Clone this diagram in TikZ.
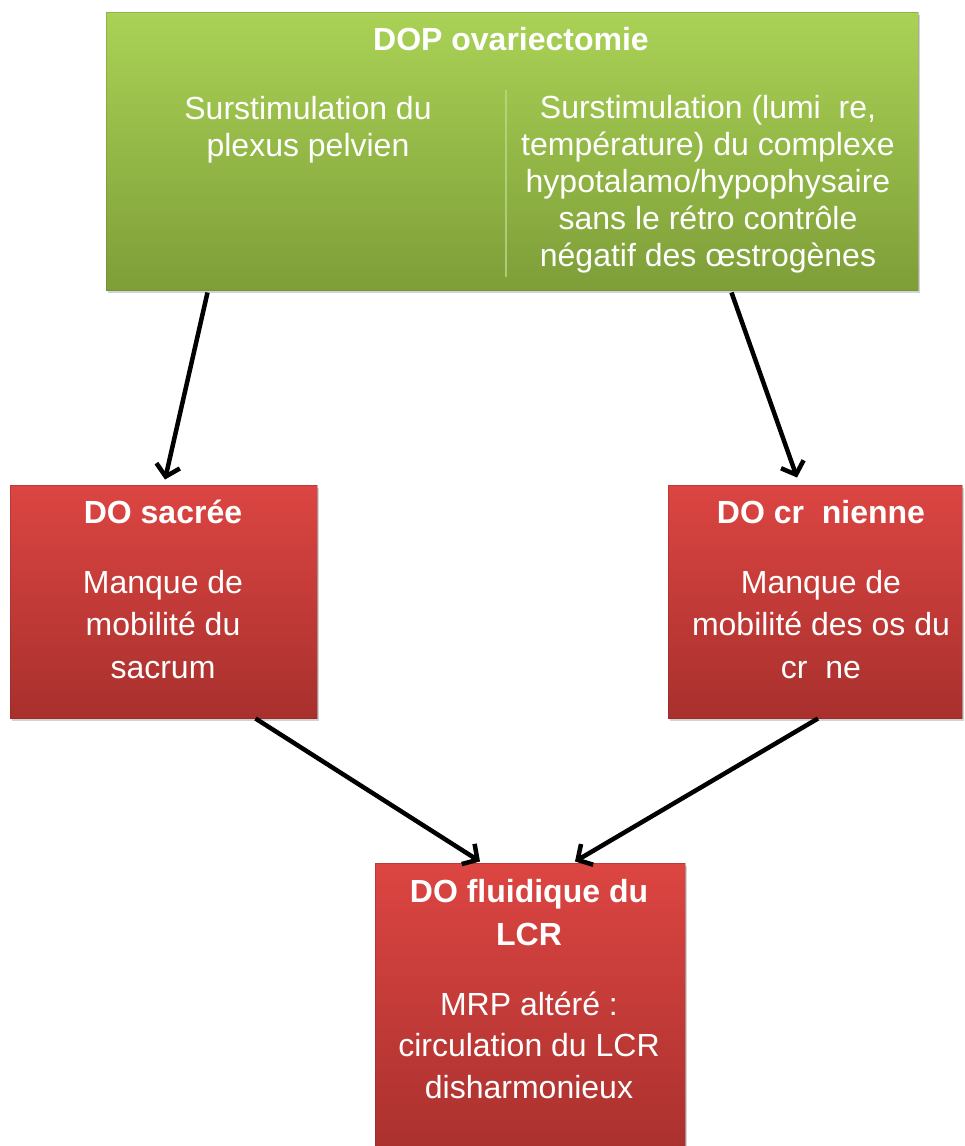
\documentclass[tikz,border=0pt]{standalone}
\usepackage{fontspec}
\setmainfont{Liberation Sans}
\usetikzlibrary{arrows.meta,shadows,calc}
\definecolor{gtop}{RGB}{170,210,86}
\definecolor{gbot}{RGB}{126,158,56}
\definecolor{rtop}{RGB}{220,69,66}
\definecolor{rbot}{RGB}{168,48,45}
\definecolor{divline}{RGB}{190,220,140}
\tikzset{
  greenbox/.style={rectangle, inner sep=0pt, top color=gtop, bottom color=gbot,
    draw=gbot!80!black, draw opacity=0.35, line width=1pt,
    drop shadow={opacity=0.35, shadow xshift=2pt, shadow yshift=-3pt}},
  redbox/.style={rectangle, inner sep=0pt, top color=rtop, bottom color=rbot,
    draw=rbot!80!black, draw opacity=0.35, line width=1pt,
    drop shadow={opacity=0.35, shadow xshift=2pt, shadow yshift=-3pt}},
  gtext/.style={anchor=base, inner sep=0pt, align=center, text=white,
    font=\fontsize{32}{37}\selectfont},
  rtitle/.style={anchor=base, inner sep=0pt, align=center, text=white,
    font=\fontsize{32}{43}\selectfont\bfseries},
  rtext/.style={anchor=base, inner sep=0pt, align=center, text=white,
    font=\fontsize{32}{42.5}\selectfont},
  arr/.style={line width=4.5pt, -{Straight Barb[length=11pt,width=24pt]}, black}
}
\begin{document}
\begin{tikzpicture}[x=1pt,y=-1pt]
\useasboundingbox (0,0) rectangle (965,1146);
% boxes
\node[greenbox, minimum width=812pt, minimum height=278pt] (green) at (512,151) {};
\node[redbox, minimum width=307pt, minimum height=233pt] (sacr) at (163.5,601.5) {};
\node[redbox, minimum width=294pt, minimum height=233pt] (cran) at (815,601.5) {};
\node[redbox, minimum width=310pt, minimum height=300pt] (lcr) at (530,1013) {};
% divider
\draw[divline, line width=1.5pt, opacity=0.7] (506,90) -- (506,277);
% texts (base anchor = baseline of last line)
\node[gtext, font=\fontsize{32}{37}\selectfont\bfseries] (t0) at (511,50) {DOP ovariectomie};
\node[gtext] (t1) at (308,156) {Surstimulation du\\plexus pelvien};
\node[gtext] (t2) at (708,266) {Surstimulation (lumi\phantom{è}re,\\temp\'erature) du complexe\\hypotalamo/hypophysaire\\sans le r\'etro contr\^ole\\n\'egatif des \oe strog\`enes};
\node[rtitle] (t3) at (163,523) {DO sacr\'ee};
\node[rtext] (t4) at (163,678) {Manque de\\mobilit\'e du\\sacrum};
\node[rtitle] (t5) at (821,523) {DO cr\phantom{â}nienne};
\node[rtext] (t6) at (821,678) {Manque de\\mobilit\'e des os du\\cr\phantom{â}ne};
\node[rtitle] (t7) at (529,945) {DO fluidique du\\LCR};
\node[rtext, font=\fontsize{32}{41.5}\selectfont] (t8) at (529,1098) {MRP alt\'er\'e :\\circulation du LCR\\disharmonieux};
% connectors
\draw[arr] ([xshift=102pt,yshift=-2pt]green.south west) -- ([xshift=1.5pt,yshift=5pt]sacr.north);
\draw[arr] ([xshift=626pt,yshift=-2pt]green.south west) -- ([xshift=-18pt,yshift=7pt]cran.north);
\draw[arr] ([xshift=-62pt]sacr.south east) -- ([xshift=-50pt,yshift=1pt]lcr.north);
\draw[arr] ([xshift=3pt]cran.south) -- ([xshift=45pt,yshift=1pt]lcr.north);
\end{tikzpicture}
\end{document}
